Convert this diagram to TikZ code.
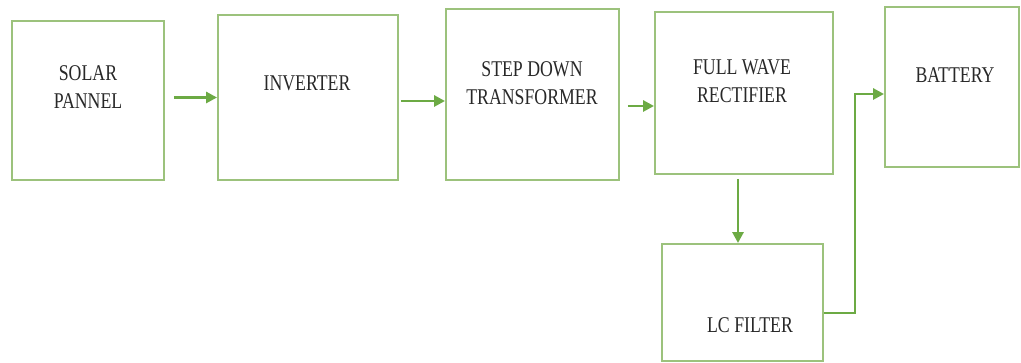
\documentclass[tikz,border=0pt]{standalone}
\usepackage{fontspec}
\newfontfamily\lblfont[FakeStretch=0.79]{Liberation Serif}
\usetikzlibrary{arrows.meta,calc}
\definecolor{boxgreen}{RGB}{156,194,124}
\definecolor{arrgreen}{RGB}{108,170,68}
\definecolor{txtgray}{RGB}{40,40,40}
\tikzset{
  blk/.style={draw=boxgreen, line width=1.9pt, rectangle, inner sep=0pt},
  lbl/.style={font=\lblfont\fontsize{22.5}{28}\selectfont, text=txtgray, align=center, inner sep=0pt},
  arr/.style={draw=arrgreen, line width=2.9pt, -{Triangle[length=11pt,width=11pt]}}
}
\begin{document}
\begin{tikzpicture}[x=1pt,y=-1pt]
\useasboundingbox (0,0) rectangle (1021,363);
% boxes
\node[blk, minimum width=152pt, minimum height=159pt] (solar) at (88,100.5) {};
\node[blk, minimum width=180pt, minimum height=165pt] (inv) at (308,97.5) {};
\node[blk, minimum width=173pt, minimum height=171pt] (step) at (532.5,94.5) {};
\node[blk, minimum width=178pt, minimum height=162pt] (full) at (744,93) {};
\node[blk, minimum width=134pt, minimum height=160pt] (bat) at (952,87) {};
\node[blk, minimum width=161pt, minimum height=117pt] (lc) at (742.5,302.5) {};
% labels
\node[lbl] (tsolar) at (88,87) {SOLAR\\PANNEL};
\node[lbl] (tinv) at (307,83) {INVERTER};
\node[lbl] (tstep) at (532,83) {STEP DOWN\\TRANSFORMER};
\node[lbl] (tfull) at (742,81) {FULL WAVE\\RECTIFIER};
\node[lbl] (tbat) at (955,75) {BATTERY};
\node[lbl] (tlc) at (750,325) {LC FILTER};
% connectors
\draw[arr, shorten <=9pt] (solar.east |- inv.west) -- (inv.west);
\draw[arr, shorten <=2pt] ([yshift=-3.5pt]inv.east) -- ([yshift=-3.5pt]inv.east -| step.west);
\draw[arr, shorten <=8pt] ([yshift=-11.5pt]step.east) -- ([yshift=-11.5pt]step.east -| full.west);
\draw[arr, shorten <=4pt] ([xshift=-6pt]full.south) -- ([xshift=-6pt]full.south |- lc.north);
\draw[arr] ([yshift=-10.5pt]lc.east) -- ++(31pt,0) |- ([yshift=-7pt]bat.west);
\end{tikzpicture}
\end{document}
